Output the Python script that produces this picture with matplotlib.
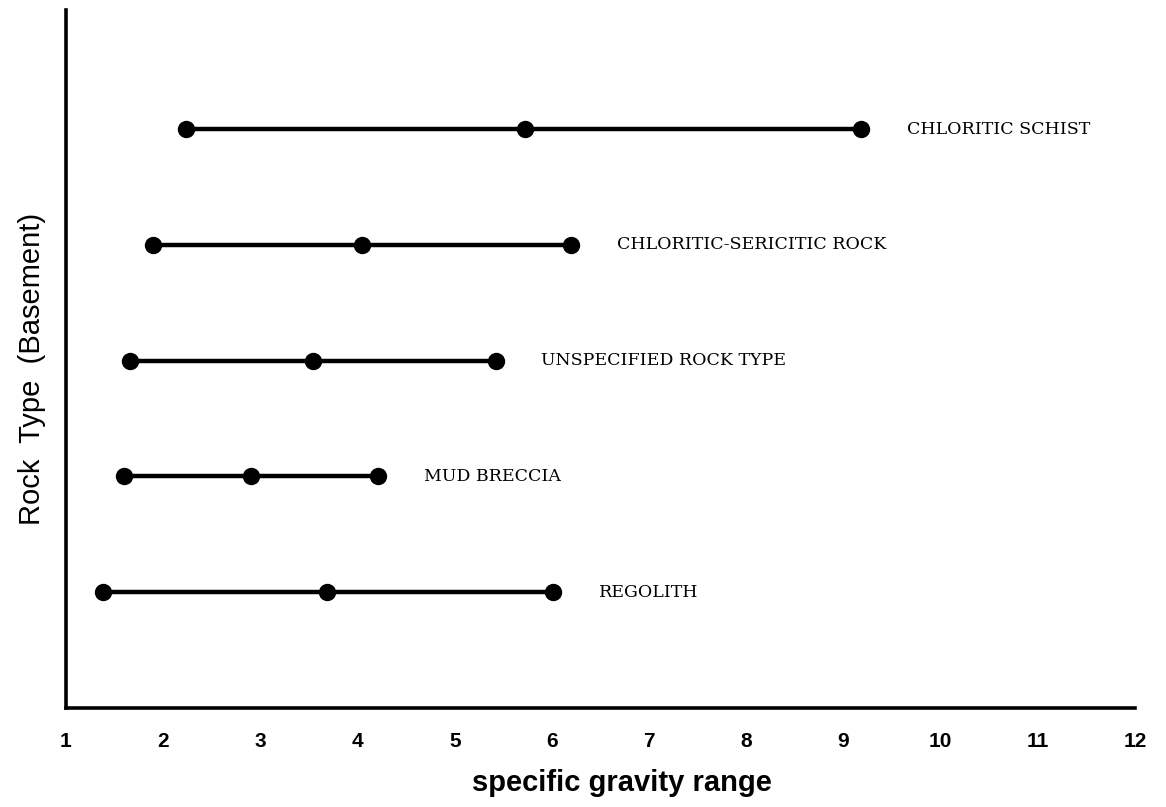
import numpy as np
import matplotlib.pyplot as plt

# specific gravity ranges per rock type: low, middle, high
rock_types = ["CHLORITIC SCHIST", "CHLORITIC-SERICITIC ROCK",
              "UNSPECIFIED ROCK TYPE", "MUD BRECCIA", "REGOLITH"]
sg_low = [2.23, 1.90, 1.66, 1.60, 1.38]
sg_mid = [5.72, 4.05, 3.54, 2.90, 3.69]
sg_high = [9.18, 6.20, 5.42, 4.21, 6.01]
rows = [5, 4, 3, 2, 1]

fig = plt.figure(figsize=(11.66, 8.07), dpi=100)
ax = fig.add_axes([0.0566, 0.1227, 0.9168, 0.865])

for name, lo, mid, hi, y in zip(rock_types, sg_low, sg_mid, sg_high, rows):
    ax.plot([lo, mid, hi], [y, y, y], color='black', linewidth=3.2,
            marker='o', markersize=11.5, solid_capstyle='round')
    ax.annotate(name, xy=(hi, y), xytext=(33, 0), textcoords='offset points',
                va='center', ha='left', fontsize=12.5,
                family='DejaVu Serif')

ax.set_xlim(1, 12)
ax.set_ylim(0, 6.03)
ax.set_xticks(np.arange(1, 13))
ax.set_yticks([])
ax.tick_params(axis='x', length=0, pad=17)
for lab in ax.get_xticklabels():
    lab.set_fontweight('bold')
    lab.set_fontsize(15)
    lab.set_family('Liberation Sans')

for s in ['top', 'right']:
    ax.spines[s].set_visible(False)
for s in ['left', 'bottom']:
    ax.spines[s].set_linewidth(2.6)

ax.set_xlabel("specific gravity range", fontsize=21, fontweight='bold',
              family='Liberation Sans')
ax.xaxis.set_label_coords(0.52, -0.087)
ax.set_ylabel("Rock  Type  (Basement)", fontsize=21,
              family='Liberation Sans')
ax.yaxis.set_label_coords(-0.019, 0.485)

plt.savefig('out.png', dpi=100)
